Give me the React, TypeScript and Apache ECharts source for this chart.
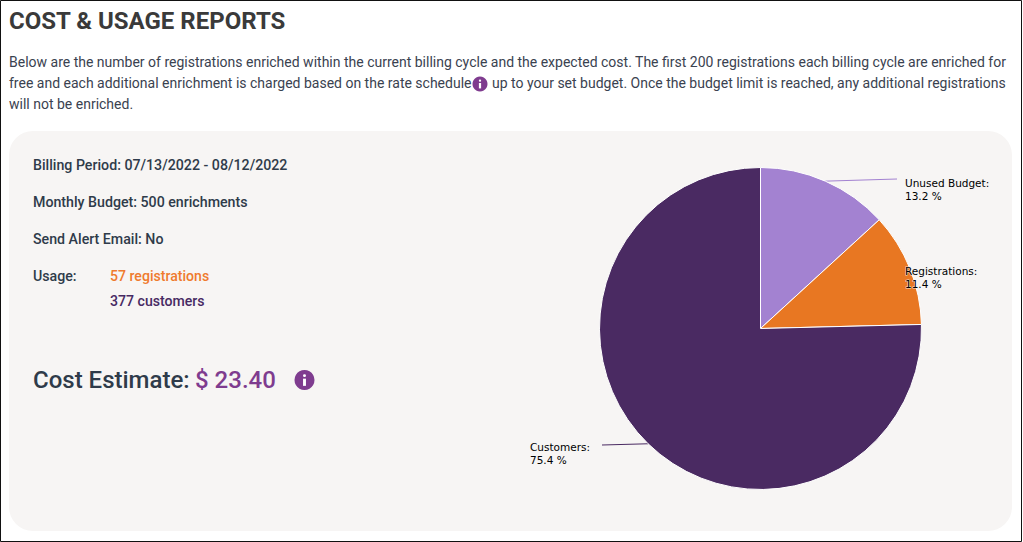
import React, { useEffect, useRef } from "react";
import * as echarts from "echarts";

const sliceNames = ["Unused Budget", "Registrations", "Customers"];
const sliceValues = [13.2, 11.4, 75.4];
const sliceColors = ["#a382d1", "#e87722", "#4a2a62"];

const titleText = "COST & USAGE REPORTS";
const paragraphLines = [
  "Below are the number of registrations enriched within the current billing cycle and the expected cost. The first 200 registrations each billing cycle are enriched for",
  "free and each additional enrichment is charged based on the rate schedule",
  "up to your set budget. Once the budget limit is reached, any additional registrations",
  "will not be enriched.",
];
const billing = "Billing Period: 07/13/2022 - 08/12/2022";
const budget = "Monthly Budget: 500 enrichments";
const alertEmail = "Send Alert Email: No";
const usageLabel = "Usage:";
const usageRegistrations = "57 registrations";
const usageCustomers = "377 customers";
const costLabel = "Cost Estimate:";
const costValue = "$ 23.40";

const INK = "#2f3b4a";
const BODY = "#3a4250";
const PURPLE = "#7f3c8f";

function txt(text: string, x: number, y: number, size: number, weight: number | string, fill: string) {
  return {
    type: "text",
    x,
    y,
    silent: true,
    style: { text, fill, fontFamily: "Roboto", fontSize: size, fontWeight: weight, verticalAlign: "middle", align: "left" },
  };
}

function infoIcon(cx: number, cy: number, r: number) {
  const u = r / 7.5;
  return [
    { type: "circle", silent: true, shape: { cx, cy, r }, style: { fill: PURPLE } },
    { type: "rect", silent: true, shape: { x: cx - 1.1 * u, y: cy - 4.4 * u, width: 2.2 * u, height: 2.2 * u, r: 1 * u }, style: { fill: "#fff" } },
    { type: "rect", silent: true, shape: { x: cx - 1.1 * u, y: cy - 1 * u, width: 2.2 * u, height: 5.4 * u }, style: { fill: "#fff" } },
  ];
}

// label placement per slice
const labelSpots = [
  { x: 905, y: 176, endX: 897, endY: 179 },
  { x: 905, y: 264, endX: 905, endY: 268 },
  { x: 530, y: 440, endX: 602, endY: 445 },
];

export default function App() {
  const ref = useRef<HTMLDivElement>(null);
  useEffect(() => {
    document.body.style.margin = "0";
    const chart = echarts.init(ref.current!, null, { renderer: "svg" });
    chart.setOption({
      animation: false,
      graphic: {
        elements: [
          { type: "rect", silent: true, shape: { x: 0.5, y: 0.5, width: 1021, height: 541 }, style: { fill: "#fff", stroke: "#111", lineWidth: 1 } },
          { type: "rect", silent: true, shape: { x: 9, y: 131, width: 1003, height: 400, r: 24 }, style: { fill: "#f7f5f4" } },
          txt(titleText, 9, 20.5, 24, 700, "#3a3a3a"),
          txt(paragraphLines[0], 9, 62, 14, 400, BODY),
          txt(paragraphLines[1], 9, 83, 14, 400, BODY),
          txt(paragraphLines[2], 492, 83, 14, 400, BODY),
          txt(paragraphLines[3], 9, 104, 14, 400, BODY),
          ...infoIcon(480, 84, 7.5),
          txt(billing, 33, 165, 14.2, 500, INK),
          txt(budget, 33, 202, 14.2, 500, INK),
          txt(alertEmail, 33, 239, 14.2, 500, INK),
          txt(usageLabel, 33, 276, 14.2, 500, INK),
          txt(usageRegistrations, 110, 276, 14.1, 500, "#ef7b2e"),
          txt(usageCustomers, 110, 301, 14.1, 500, "#472a63"),
          txt(costLabel, 33, 380, 24, 500, INK),
          txt(costValue, 195, 380, 24, 500, PURPLE),
          ...infoIcon(304.5, 380, 10),
        ],
      },
      series: [
        {
          type: "pie",
          center: [760.5, 328.5],
          radius: 161,
          startAngle: 90,
          clockwise: true,
          avoidLabelOverlap: false,
          itemStyle: { borderColor: "#ffffff", borderWidth: 1 },
          data: sliceNames.map((name, i) => ({ name, value: sliceValues[i], itemStyle: { color: sliceColors[i] } })),
          label: {
            show: true,
            position: "outside",
            formatter: (p: any) => `${p.name}:\n${p.value.toFixed(1)} %`,
            color: "#000",
            fontFamily: "DejaVu Sans",
            fontSize: 10.5,
            lineHeight: 13,
            align: "left",
            textBorderColor: "rgba(246,245,244,0.8)",
            textBorderWidth: 1,
          },
          labelLine: { show: true, length: 10, length2: 10, smooth: false, lineStyle: { width: 1 } },
          labelLayout: (p: any) => {
            const s = labelSpots[p.dataIndex];
            const start = p.labelLinePoints ? p.labelLinePoints[0] : [s.endX, s.endY];
            return {
              x: s.x,
              y: s.y,
              align: "left",
              verticalAlign: "top",
              labelLinePoints: [start, [s.endX, s.endY], [s.endX, s.endY]],
            };
          },
        },
      ],
    });
    return () => chart.dispose();
  }, []);
  return <div ref={ref} style={{ width: 1023, height: 542 }} />;
}
